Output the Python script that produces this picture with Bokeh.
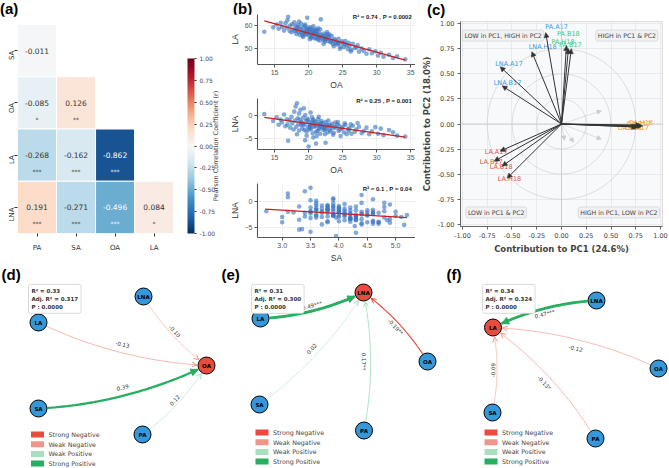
import math
from bokeh.plotting import figure
from bokeh.layouts import row, column
from bokeh.models import (Range1d, FixedTicker, ColumnDataSource, LinearColorMapper, ColorBar,
                          Label, Arrow, NormalHead, OpenHead, PrintfTickFormatter, Span, Div)
from bokeh.transform import transform
from bokeh.core.properties import value, field
from bokeh.embed import file_html
from bokeh.resources import INLINE

# ---------------- data: (a) correlation heatmap ----------------
corr_cols = ["PA", "SA", "OA", "LA"]
corr_rows = ["SA", "OA", "LA", "LNA"]
corr_r = [[-0.011], [-0.085, 0.126], [-0.268, -0.162, -0.862], [0.191, -0.271, -0.496, 0.084]]
corr_sig = [[""], ["*", "**"], ["***", "***", "***"], ["***", "***", "***", "*"]]
cbar_ticks = [-1.0, -0.75, -0.5, -0.25, 0.0, 0.25, 0.5, 0.75, 1.0]

# ---------------- data: (b) scatter plots ----------------
oa_vals = [13.5, 14.8, 15.3, 15.6, 15.9, 16.1, 16.4, 16.6, 16.8, 16.9,
           17.0, 17.2, 17.3, 17.5, 17.6, 17.8, 17.9, 18.0, 18.1, 18.2,
           18.3, 18.4, 18.5, 18.6, 18.7, 18.8, 18.9, 18.95, 18.3, 18.6,
           19.0, 19.1, 19.2, 19.3, 19.4, 19.5, 19.6, 19.7, 19.8, 19.9,
           19.2, 19.5, 19.7, 19.9, 19.4, 20.0, 20.1, 20.2, 20.3, 20.4,
           20.5, 20.6, 20.7, 20.8, 20.9, 20.1, 20.3, 20.5, 20.7, 20.9,
           20.2, 20.6, 21.0, 21.1, 21.2, 21.3, 21.4, 21.5, 21.6, 21.7,
           21.8, 21.9, 21.2, 21.4, 21.6, 21.8, 21.1, 21.5, 22.0, 22.1,
           22.2, 22.3, 22.4, 22.5, 22.6, 22.7, 22.8, 22.9, 22.2, 22.5,
           22.8, 22.4, 23.0, 23.2, 23.4, 23.5, 23.6, 23.8, 23.9, 23.1,
           23.3, 23.7, 24.0, 24.2, 24.4, 24.5, 24.7, 24.9, 24.3, 24.6,
           25.0, 25.2, 25.4, 25.6, 25.8, 25.3, 25.9, 26.0, 26.3, 26.5,
           26.8, 26.2, 27.0, 27.4, 27.8, 27.2, 28.1, 28.5, 28.9, 29.3,
           29.8, 30.2, 30.6, 31.0, 31.8, 32.4, 33.0, 34.2]
la_vals = [57.1, 59.0, 60.2, 58.4, 61.0, 59.2, 57.6, 60.8, 58.9, 62.0,
           63.5, 57.5, 59.8, 56.9, 60.3, 58.1, 61.2, 57.4, 59.5, 56.2,
           58.8, 60.1, 57.0, 59.1, 55.8, 58.3, 60.6, 56.7, 57.9, 61.5,
           57.6, 55.4, 58.9, 56.8, 59.7, 57.2, 55.9, 58.4, 63.1, 56.3,
           54.9, 60.2, 57.8, 58.9, 56.1, 57.0, 55.2, 58.3, 56.5, 54.6,
           57.8, 55.9, 59.4, 56.8, 54.3, 57.6, 59.0, 55.0, 56.4, 58.1,
           53.9, 57.3, 56.0, 54.2, 57.4, 55.5, 53.8, 56.9, 55.0, 58.2,
           62.4, 54.5, 56.2, 58.6, 53.4, 55.8, 57.9, 54.8, 55.3, 53.6,
           56.4, 54.8, 52.9, 55.7, 54.0, 57.0, 53.2, 55.1, 51.9, 54.4,
           56.1, 53.7, 54.2, 52.6, 55.3, 53.5, 51.8, 54.0, 52.3, 55.9,
           53.0, 50.9, 53.4, 51.7, 54.1, 52.5, 50.6, 53.0, 52.0, 49.8,
           52.2, 50.5, 53.1, 51.3, 49.6, 51.8, 52.4, 51.0, 49.4, 52.0,
           50.2, 48.7, 50.4, 48.6, 49.9, 51.3, 49.0, 47.7, 49.6, 47.9,
           48.8, 46.9, 48.1, 46.4, 47.3, 45.9, 46.6, 45.3]
lna_vals = [0.3, -1.2, -0.4, -2.0, -0.9, -1.5, 0.2, -2.3, -0.8, -1.9,
            -5.4, -1.0, -2.6, -0.3, -1.7, -3.0, 0.8, -1.1, 1.9, -2.4,
            2.6, -0.6, -1.8, -3.2, -0.9, 1.2, -2.1, -1.4, -4.0, 0.4,
            -1.6, -2.8, -0.5, 1.5, -2.0, -5.3, -1.2, -3.4, -0.7, -2.5,
            -1.9, 0.1, -4.3, -1.0, -3.1, -6.6, -1.4, -2.2, 0.6, -2.9,
            -1.7, -3.8, -0.9, -2.4, -1.3, -3.0, -2.0, -0.4, -4.7, -1.9,
            -2.6, -1.1, -2.3, -6.0, -1.5, -3.3, -0.8, -2.7, -1.9, -3.9,
            -2.2, -1.2, -4.4, -2.0, -2.9, -1.6, -3.5, -0.3, -2.5, -1.7,
            -3.1, -2.2, -4.0, -1.4, -2.8, -2.0, -3.6, -1.1, -2.6, -5.8,
            -2.3, -3.0, -2.1, -3.4, -1.8, -2.7, -4.1, -2.4, -1.5, -3.0,
            -2.2, -3.7, -2.6, -1.9, -3.3, -2.2, -4.4, -2.8, -1.4, -3.0,
            -2.5, -3.6, -2.0, -4.0, -2.9, -1.7, -3.3, -2.7, -3.9, -2.2,
            -3.5, -1.9, -3.0, -2.4, -3.8, -1.6, -3.3, -2.6, -4.0, -3.4,
            -2.5, -3.9, -2.8, -4.2, -3.1, -3.6, -4.3, -4.5]
sa_vals = [3.9, 4.2, 3.6, 4.4, 3.8, 4.0, 3.5, 4.6, 3.7, 2.72,
           3.3, 4.3, 3.9, 4.8, 3.6, 4.0, 3.1, 3.8, 3.4, 4.2,
           3.5, 4.9, 4.1, 3.5, 3.9, 4.4, 3.2, 4.0, 3.8, 4.6,
           3.6, 4.3, 4.1, 3.1, 5.0, 3.35, 3.5, 4.2, 3.8, 4.4,
           4.0, 3.6, 4.7, 3.3, 3.95, 3.95, 3.7, 4.5, 3.9, 3.4,
           4.3, 3.8, 4.0, 4.6, 3.6, 4.2, 3.1, 3.9, 4.28, 3.7,
           4.1, 4.8, 3.5, 4.3, 3.8, 4.3, 3.6, 4.5, 3.9, 4.2,
           3.4, 4.0, 3.7, 4.6, 4.1, 3.8, 3.3, 4.4, 3.9, 4.2,
           3.6, 4.7, 3.0, 3.8, 4.3, 3.5, 4.1, 3.9, 4.5, 3.5,
           4.2, 3.0, 4.0, 4.4, 3.8, 3.6, 4.9, 4.1, 3.9, 4.3,
           3.7, 4.6, 4.0, 3.5, 4.2, 3.8, 4.4, 3.9, 4.1, 5.1,
           3.6, 4.3, 4.0, 4.7, 3.8, 4.5, 4.2, 3.9, 4.6, 4.1,
           4.3, 4.8, 3.7, 4.4, 4.0, 4.6, 4.2, 5.2, 4.5, 4.9,
           4.3, 4.7, 5.0, 4.4, 4.8, 4.85, 4.6, 5.15]
fit_oa_x = [13.5, 34.2]
fit_la_y = [61.8, 45.0]
fit_lna_y = [-0.4, -4.6]
fit_sa_x = [2.7, 5.2]
fit_lna_sa_y = [-1.5, -3.1]
stat_texts = ["R² = 0.74 ,  P = 0.0002", "R² = 0.25 ,  P = 0.001", "R² = 0.1 ,  P = 0.04"]

# ---------------- data: (c) PCA loadings ----------------
pca_vars = ["PA.A17", "PA.B18", "PA.H18", "PA.B17", "LNA.H18", "LNA.A17", "LNA.B17",
            "OA.A17", "OA.B17", "OA.B18", "OA.H18", "LA.A17", "LA.B17", "LA.B18", "LA.H18"]
pca_pc1 = [-0.16, 0.05, 0.07, 0.10, -0.30, -0.62, -0.60, 0.82, 0.80, 0.78, 0.76, -0.62, -0.68, -0.60, -0.55]
pca_pc2 = [0.91, 0.78, 0.75, 0.75, 0.72, 0.57, 0.38, -0.02, -0.01, -0.03, -0.03, -0.27, -0.37, -0.42, -0.54]
pca_group = ["c1", "c2", "c2", "c2", "c1", "c1", "c1", "c3", "c3", "c3", "c3", "c4", "c4", "c4", "c4"]
faint_pc1 = [0.40, 0.40, 0.12, 0.03]
faint_pc2 = [0.13, -0.15, -0.18, -0.16]
quad_texts = ["LOW in PC1, HIGH in PC2", "HIGH in PC1 & PC2", "LOW in PC1 & PC2", "HIGH in PC1, LOW in PC2"]
pc_ticks = [-1.0, -0.75, -0.5, -0.25, 0.0, 0.25, 0.5, 0.75, 1.0]

# ---------------- data: (d)(e)(f) regression networks ----------------
net_targets = ["OA", "LNA", "LA"]
net_sources = [["LNA", "LA", "SA", "PA"], ["LA", "SA", "PA", "OA"], ["LNA", "OA", "SA", "PA"]]
net_coefs = [[-0.10, -0.13, 0.39, 0.12], [0.49, 0.02, 0.17, -0.19], [0.47, -0.12, -0.09, -0.13]]
net_edge_text = [["-0.10", "-0.13", "0.39", "0.12"], ["0.49***", "0.02", "0.17**", "-0.19**"],
                 ["0.47***", "-0.12", "-0.09", "-0.13*"]]
net_edge_class = [["Weak Negative", "Weak Negative", "Strong Positive", "Weak Positive"],
                  ["Strong Positive", "Weak Positive", "Weak Positive", "Strong Negative"],
                  ["Strong Positive", "Weak Negative", "Weak Negative", "Weak Negative"]]
net_r2 = ["0.33", "0.31", "0.34"]
net_adj_r2 = ["0.317", "0.300", "0.324"]
net_p = ["0.0000", "0.0000", "0.0000"]
legend_classes = ["Strong Negative", "Weak Negative", "Weak Positive", "Strong Positive"]

# ---------------- styles / layout ----------------
DJ = value("DejaVu Sans")      # for glyphs
DJs = "DejaVu Sans"            # for axes / annotations
ARs = "Liberation Sans"
class_colors = {"Strong Negative": "#e74c3c", "Weak Negative": "#f1948a",
                "Weak Positive": "#a9dfbf", "Strong Positive": "#27ae60"}
group_colors = {"c1": "#3498db", "c2": "#2ecc71", "c3": "#f39c12", "c4": "#e74c3c"}
rdbu = ['#053061', '#2166ac', '#4393c3', '#92c5de', '#d1e5f0', '#f7f7f7',
        '#fddbc7', '#f4a582', '#d6604d', '#b2182b', '#67001f']


def interp(pal, n):
    rgb = [tuple(int(c[i:i + 2], 16) for i in (1, 3, 5)) for c in pal]
    out = []
    for k in range(n):
        t = k / (n - 1) * (len(pal) - 1)
        i = min(int(t), len(pal) - 2)
        f = t - i
        out.append('#%02x%02x%02x' % tuple(int(round(rgb[i][j] + (rgb[i + 1][j] - rgb[i][j]) * f)) for j in range(3)))
    return out


def tag_div(text, width, height, left, top):
    html = (f'<div style="font-family:\'Liberation Sans\',Arial,sans-serif;font-weight:bold;'
            f'font-size:15px;line-height:15px;margin:0;padding:{top}px 0 0 {left}px;'
            f'white-space:nowrap;color:black;">{text}</div>')
    return Div(text=html, width=width, height=height, margin=(0, 0, 0, 0),
               styles={"overflow": "visible"})


# ======== (a) heatmap ========
mapper = LinearColorMapper(palette=interp(rdbu, 256), low=-1, high=1)
pa = figure(width=225, height=249, x_range=Range1d(0, 5.33), y_range=Range1d(0, 4),
            toolbar_location=None, output_backend="svg",
            min_border_left=13, min_border_right=0, min_border_top=8, min_border_bottom=32)
pa.outline_line_color = None
pa.grid.visible = False
cx, cy, cr, ct, cs, ctc = [], [], [], [], [], []
for i, rname in enumerate(corr_rows):
    for j, rv in enumerate(corr_r[i]):
        cx.append(j + 0.5)
        cy.append(len(corr_rows) - i - 0.5)
        cr.append(rv)
        ct.append(f"{rv:.3f}")
        cs.append(corr_sig[i][j])
        ctc.append("white" if abs(rv) > 0.4 else "#333333")
hsrc = ColumnDataSource(dict(x=cx, y=cy, r=cr, t=ct, s=cs, tc=ctc, sy=[v - 0.31 for v in cy]))
pa.rect('x', 'y', width=1, height=1, source=hsrc, fill_color=transform('r', mapper),
        line_color="white", line_width=1)
pa.text('x', 'y', text='t', source=hsrc, text_color=field('tc'), text_font=DJ,
        text_font_size="7.5px", text_align="center", text_baseline="middle")
pa.text('x', 'sy', text='s', source=hsrc, text_color=field('tc'), text_font=DJ,
        text_font_size="6px", text_align="center", text_baseline="middle")
pa.xaxis.ticker = FixedTicker(ticks=[j + 0.5 for j in range(len(corr_cols))], minor_ticks=[])
pa.xaxis.major_label_overrides = {j + 0.5: c for j, c in enumerate(corr_cols)}
pa.yaxis.ticker = FixedTicker(ticks=[i + 0.5 for i in range(len(corr_rows))], minor_ticks=[])
pa.yaxis.major_label_overrides = {len(corr_rows) - i - 0.5: r for i, r in enumerate(corr_rows)}
pa.yaxis.major_label_orientation = math.pi / 2
for ax in (pa.xaxis[0], pa.yaxis[0]):
    ax.axis_line_color = None
    ax.major_tick_line_color = "#333333"
    ax.major_tick_in = 0
    ax.major_tick_out = 3
    ax.major_label_standoff = 3
    ax.major_label_text_font = DJs
    ax.major_label_text_font_size = "7px"
    ax.major_label_text_color = "#333333"
pa.xaxis.major_label_standoff = 7
cb = ColorBar(color_mapper=mapper, location=(170, 0), width=7, height=175, padding=0, margin=0,
              ticker=FixedTicker(ticks=cbar_ticks), formatter=PrintfTickFormatter(format="%.2f"),
              major_label_text_font=DJs, major_label_text_font_size="6px",
              major_label_text_color="#444444", major_tick_in=0, major_tick_out=2,
              major_tick_line_color="#333333", bar_line_color=None, border_line_color=None,
              background_fill_alpha=0, label_standoff=3)
pa.add_layout(cb)
pa.add_layout(Label(x=5.08, y=1.675, text="Pearson Correlation Coefficient (r)", angle=math.pi / 2,
                    text_align="center", text_baseline="middle", text_font=DJs,
                    text_font_size="6.5px", text_color="#444444"))
col_a = column(tag_div("(a)", 225, 16, 0, 1), pa, spacing=0)


# ======== (b) scatter plots ========
def scatter_panel(h, top, bottom, xs, ys, fx, fy, xr, yr, xticks, yticks, xfmt, xlab, ylab, stat):
    p = figure(width=190, height=h, x_range=Range1d(*xr), y_range=Range1d(*yr),
               toolbar_location=None, output_backend="svg",
               min_border_left=32, min_border_right=0, min_border_top=top, min_border_bottom=bottom)
    p.outline_line_color = None
    p.grid.grid_line_color = "#ebebeb"
    p.grid.grid_line_width = 0.8
    p.xaxis.ticker = FixedTicker(ticks=xticks, minor_ticks=[])
    p.yaxis.ticker = FixedTicker(ticks=yticks, minor_ticks=[])
    p.xaxis.formatter = PrintfTickFormatter(format=xfmt)
    p.xaxis.axis_label = xlab
    p.yaxis.axis_label = ylab
    for ax in (p.xaxis[0], p.yaxis[0]):
        ax.axis_line_color = "#555555"
        ax.axis_line_width = 1.1
        ax.major_tick_line_color = "#555555"
        ax.major_tick_in = 0
        ax.major_tick_out = 3
        ax.major_label_standoff = 2
        ax.major_label_text_font = ARs
        ax.major_label_text_font_size = "7px"
        ax.major_label_text_color = "#555555"
        ax.axis_label_text_font = ARs
        ax.axis_label_text_font_size = "8.5px"
        ax.axis_label_text_font_style = "normal"
        ax.axis_label_text_color = "#333333"
        ax.axis_label_standoff = 2
    p.scatter(xs, ys, size=4.6, fill_color="#3a75c0", fill_alpha=0.62, line_color=None)
    p.line(fx, fy, line_color="#cc1f1f", line_width=1.3)
    fw = 190 - 32
    fh = h - top - bottom
    p.add_layout(Label(x=fw - 2, y=fh - 3, x_units="screen", y_units="screen", text=stat,
                       text_align="right", text_baseline="top", text_font=ARs,
                       text_font_style="bold", text_font_size="6px", text_color="#222222"))
    return p


n1 = min(len(oa_vals), len(la_vals), len(lna_vals), len(sa_vals))
b1 = scatter_panel(78, 0, 24, oa_vals[:n1], la_vals[:n1], fit_oa_x, fit_la_y,
                   (12.5, 35.7), (43.1, 64.5), [15, 20, 25, 30, 35], [50, 60], "%d", "OA", "LA",
                   stat_texts[0])
b2 = scatter_panel(85, 6, 24, oa_vals[:n1], lna_vals[:n1], fit_oa_x, fit_lna_y,
                   (12.5, 35.7), (-7.25, 3.6), [15, 20, 25, 30, 35], [-5, 0], "%d", "OA", "LNA",
                   stat_texts[1])
b3 = scatter_panel(88, 6, 27, sa_vals[:n1], lna_vals[:n1], fit_sa_x, fit_lna_sa_y,
                   (2.565, 5.35), (-6.9, 3.4), [3.0, 3.5, 4.0, 4.5, 5.0], [-5, 0], "%.1f", "SA", "LNA",
                   stat_texts[2])
col_b = column(tag_div("(b)", 190, 14, 8, 1), b1, b2, b3, spacing=0)

# ======== (c) PCA loadings ========
pc = figure(width=254, height=247, x_range=Range1d(-1.02, 1.02), y_range=Range1d(-1.02, 1.02),
            toolbar_location=None, output_backend="svg",
            min_border_left=45, min_border_right=7, min_border_top=3, min_border_bottom=39)
pc.background_fill_color = "#f8f9fb"
pc.outline_line_color = "#dddddd"
pc.grid.grid_line_color = "#e4e6ea"
pc.grid.grid_line_width = 0.8
pc.xaxis.ticker = FixedTicker(ticks=pc_ticks, minor_ticks=[])
pc.yaxis.ticker = FixedTicker(ticks=pc_ticks, minor_ticks=[])
pc.xaxis.formatter = PrintfTickFormatter(format="%.2f")
pc.yaxis.formatter = PrintfTickFormatter(format="%.2f")
pc.xaxis.axis_label = "Contribution to PC1 (24.6%)"
pc.yaxis.axis_label = "Contribution to PC2 (18.0%)"
for ax in (pc.xaxis[0], pc.yaxis[0]):
    ax.axis_line_color = "#666666"
    ax.major_tick_line_color = "#666666"
    ax.major_tick_in = 0
    ax.major_tick_out = 3
    ax.major_label_standoff = 3
    ax.major_label_text_font = DJs
    ax.major_label_text_font_size = "6.5px"
    ax.major_label_text_color = "#444444"
    ax.axis_label_text_font = DJs
    ax.axis_label_text_font_size = "8.5px"
    ax.axis_label_text_font_style = "bold"
    ax.axis_label_text_color = "#444444"
    ax.axis_label_standoff = 3
pc.add_layout(Span(location=0, dimension="width", line_color="#c9c9c9", line_width=0.9))
pc.add_layout(Span(location=0, dimension="height", line_color="#c9c9c9", line_width=0.9))
for rad in (0.25, 0.5, 0.75):
    pc.ellipse(x=[0], y=[0], width=[2 * rad], height=[2 * rad], fill_alpha=0,
               line_color="#d6d6d6", line_width=0.8)
fsrc = ColumnDataSource(dict(x0=[0] * len(faint_pc1), y0=[0] * len(faint_pc1), x1=faint_pc1, y1=faint_pc2))
pc.add_layout(Arrow(end=NormalHead(size=4, fill_color="#bbbbbb", line_color="#bbbbbb", fill_alpha=0.6, line_alpha=0.6),
                    source=fsrc, x_start="x0", y_start="y0", x_end="x1", y_end="y1",
                    line_color="#bbbbbb", line_alpha=0.6, line_width=0.7))
asrc = ColumnDataSource(dict(x0=[0] * len(pca_pc1), y0=[0] * len(pca_pc1), x1=pca_pc1, y1=pca_pc2))
pc.add_layout(Arrow(end=NormalHead(size=5, fill_color="#333333", line_color="#333333", line_width=0.5),
                    source=asrc, x_start="x0", y_start="y0", x_end="x1", y_end="y1",
                    line_color="#333333", line_width=1))
label_pos = {"PA.A17": (-0.05, 0.97), "PA.B18": (0.07, 0.90), "PA.H18": (0.015, 0.82),
             "PA.B17": (0.09, 0.79), "LNA.H18": (-0.19, 0.77), "LNA.A17": (-0.53, 0.60),
             "LNA.B17": (-0.545, 0.41), "OA.A17": (0.76, -0.04), "OA.B17": (0.78, 0.0),
             "OA.B18": (0.69, -0.04), "OA.H18": (0.80, 0.005), "LA.A17": (-0.66, -0.28),
             "LA.B17": (-0.71, -0.38), "LA.B18": (-0.61, -0.43), "LA.H18": (-0.525, -0.55)}
lsrc = ColumnDataSource(dict(x=[label_pos[v][0] for v in pca_vars], y=[label_pos[v][1] for v in pca_vars],
                             t=pca_vars, c=[group_colors[g] for g in pca_group]))
pc.text('x', 'y', text='t', source=lsrc, text_color=field('c'), text_font=DJ,
        text_font_size="6.5px", text_align="center", text_baseline="middle")
quad_pos = [(-0.59, 0.88), (0.66, 0.88), (-0.66, -0.88), (0.58, -0.88)]
for qt, (qx, qy) in zip(quad_texts, quad_pos):
    pc.add_layout(Label(x=qx, y=qy, text=qt, text_align="center", text_baseline="middle",
                        text_font=DJs, text_font_size="6.2px", text_color="#444444",
                        background_fill_color="#f0f1f3", border_line_color="#cfd2d6",
                        border_line_width=0.7, padding=2, border_radius=2))
col_c = column(tag_div("(c)", 254, 18, 12, 2), pc, spacing=0)


# ======== (d)(e)(f) networks ========
def bez(S, C, T, t):
    a, b, c = (1 - t) ** 2, 2 * (1 - t) * t, t * t
    return (a * S[0] + b * C[0] + c * T[0], a * S[1] + b * C[1] + c * T[1])


def network_panel(k, W, pos, leg_x, leg_y0, box_x, tag):
    p = figure(width=W, height=203, x_range=Range1d(0, W), y_range=Range1d(0, 203),
               toolbar_location=None, output_backend="svg", min_border=0,
               x_axis_location=None, y_axis_location=None)
    p.grid.visible = False
    p.outline_line_color = None
    tgt = net_targets[k]
    T = pos[tgt]
    lx, ly, lt, la_ = [], [], [], []
    for sname, coef, etxt, ecls in zip(net_sources[k], net_coefs[k], net_edge_text[k], net_edge_class[k]):
        S = pos[sname]
        dx, dy = T[0] - S[0], T[1] - S[1]
        mx, my = (S[0] + T[0]) / 2, (S[1] + T[1]) / 2
        C = (mx + 0.1 * dy, my - 0.1 * dx)
        ts, te = 0.0, 1.0
        steps = [i / 1000 for i in range(1001)]
        for t in steps:
            P = bez(S, C, T, t)
            if math.hypot(P[0] - S[0], P[1] - S[1]) >= 9:
                ts = t
                break
        for t in reversed(steps):
            P = bez(S, C, T, t)
            if math.hypot(P[0] - T[0], P[1] - T[1]) >= 9.5:
                te = t
                break
        pts = [bez(S, C, T, ts + (te - ts) * i / 40) for i in range(41)]
        col = class_colors[ecls]
        strong = ecls.startswith("Strong")
        lw = max(0.6, abs(coef) * 6)
        p.line([q[0] for q in pts], [q[1] for q in pts], line_color=col, line_width=lw,
               line_alpha=1.0 if strong else 0.85)
        A = bez(S, C, T, te - 0.04)
        B = pts[-1]
        head = (NormalHead(size=7, fill_color=col, line_color=col) if strong and lw > 2
                else OpenHead(size=5, line_color=col, line_width=1))
        p.add_layout(Arrow(end=head, x_start=A[0], y_start=A[1], x_end=B[0], y_end=B[1],
                           line_alpha=0, line_width=0))
        ang = math.atan2(dy, dx)
        if ang > math.pi / 2:
            ang -= math.pi
        elif ang < -math.pi / 2:
            ang += math.pi
        lx.append(mx)
        ly.append(my)
        lt.append(etxt)
        la_.append(ang)
    p.text(lx, ly, text=lt, angle=la_, text_font=DJ, text_font_size="5.5px", text_color="#333333",
           text_align="center", text_baseline="middle")
    names = list(pos.keys())
    p.scatter([pos[n][0] for n in names], [pos[n][1] for n in names], size=17, marker="circle",
              fill_color=["#e74c3c" if n == tgt else "#3498db" for n in names],
              line_color="black", line_width=1)
    p.text([pos[n][0] for n in names], [pos[n][1] for n in names], text=names, text_font=DJ,
           text_font_style="bold", text_font_size="5.5px", text_color="black",
           text_align="center", text_baseline="middle")
    p.add_layout(Label(x=box_x + 3, y=184, text=f"R² = {net_r2[k]}\nAdj. R² = {net_adj_r2[k]}\nP : {net_p[k]}",
                       text_baseline="top", text_align="left", text_font=DJs, text_font_style="bold",
                       text_font_size="5.5px", text_color="#333333", text_line_height=1.4,
                       background_fill_color="white", border_line_color="#d0d0d0",
                       border_line_width=0.8, padding=3, border_radius=2))
    ly_ = [leg_y0 - 9.7 * i for i in range(len(legend_classes))]
    p.rect([leg_x] * len(legend_classes), ly_, width=13, height=6,
           fill_color=[class_colors[c] for c in legend_classes], line_color=None)
    p.text([leg_x + 11] * len(legend_classes), ly_, text=legend_classes, text_font=DJ,
           text_font_size="6.3px", text_color="#444444", text_align="left", text_baseline="middle")
    p.add_layout(Label(x=1, y=203, text=tag, text_font=ARs, text_font_style="bold",
                       text_font_size="15px", text_color="black", text_baseline="top"))
    return p


pos_d = {"LNA": (143, 172), "LA": (38, 146), "SA": (38, 60), "PA": (142, 34), "OA": (206, 103)}
pos_e = {"LNA": (143, 176), "LA": (40, 150), "SA": (39, 64), "PA": (143.5, 38), "OA": (207, 107)}
pos_f = {"LNA": (151, 168), "LA": (47.5, 141), "SA": (47, 56), "PA": (150, 30), "OA": (213, 100)}
pd_ = network_panel(0, 220, pos_d, 37, 34, 25, "(d)")
pe_ = network_panel(1, 225, pos_e, 41.5, 36, 28, "(e)")
pf_ = network_panel(2, 224, pos_f, 45.5, 36, 34, "(f)")

layout = column(row(col_a, col_b, col_c, spacing=0), row(pd_, pe_, pf_, spacing=0), spacing=0)
open("out.html", "w").write(file_html(layout, INLINE))
